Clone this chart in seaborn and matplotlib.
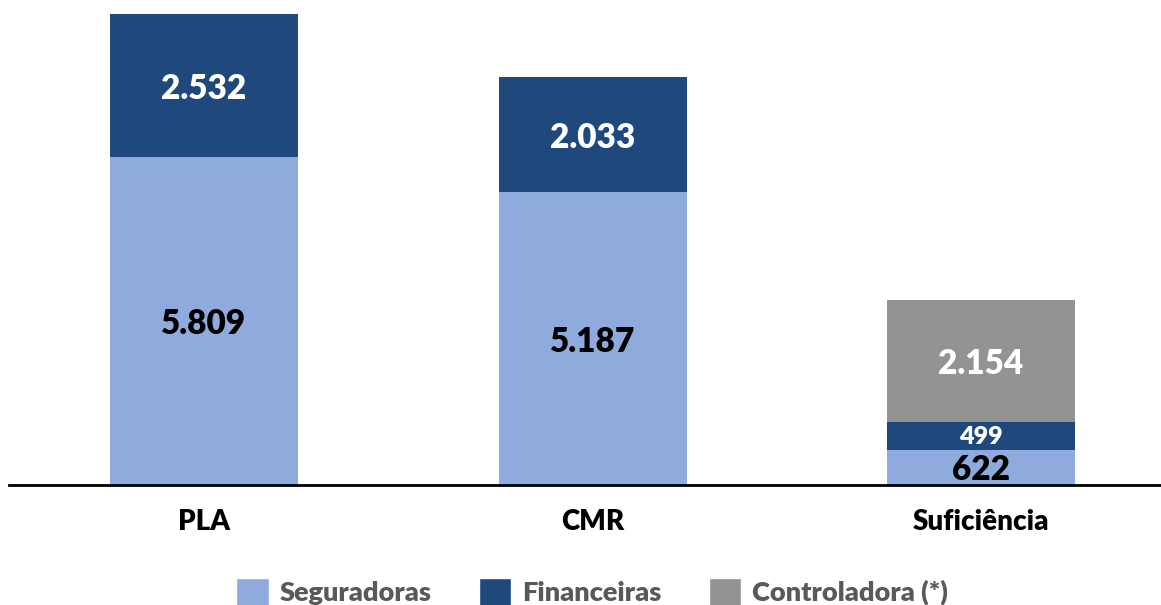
import matplotlib
matplotlib.use("Agg")
import matplotlib.pyplot as plt
import seaborn as sns
import pandas as pd
from matplotlib.patches import Patch

categories = ["PLA", "CMR", "Suficiência"]
seguradoras = [5809, 5187, 622]
financeiras = [2532, 2033, 499]
controladora = [0, 0, 2154]
series_names = ["Seguradoras", "Financeiras", "Controladora (*)"]

c_seg = "#8FAADC"
c_fin = "#1F497D"
c_ctl = "#939393"

sns.set_theme(style="white")
plt.rcParams["font.family"] = ["Lato", "DejaVu Sans"]

fig = plt.figure(figsize=(11.61, 6.05), dpi=100)
ax = fig.add_axes([9 / 1161, 120 / 605, 1 - 9 / 1161, 485 / 605])

df = pd.DataFrame({
    "cat": categories,
    "seg": seguradoras,
    "fin": financeiras,
    "ctl": controladora,
})
df["l2"] = df["seg"] + df["fin"]
df["l3"] = df["l2"] + df["ctl"]

W = 0.484
sns.barplot(data=df, x="cat", y="l3", order=categories, color=c_ctl, saturation=1,
            width=W, ax=ax, linewidth=0)
sns.barplot(data=df, x="cat", y="l2", order=categories, color=c_fin, saturation=1,
            width=W, ax=ax, linewidth=0)
sns.barplot(data=df, x="cat", y="seg", order=categories, color=c_seg, saturation=1,
            width=W, ax=ax, linewidth=0)

def fmt(v):
    return f"{v:,}".replace(",", ".")

WT = "heavy"
def label(x, y, txt, color, size, dy=-2.5):
    ax.annotate(txt, (x, y), xytext=(0, dy), textcoords="offset points",
                ha="center", va="center", color=color, fontsize=size, fontweight=WT)

for i in range(len(categories)):
    s, f, c = seguradoras[i], financeiras[i], controladora[i]
    small = (i == 2)
    label(i, s / 2, fmt(s), "black", 24, dy=-1.5 if small else -2.5)
    label(i, s + f / 2, fmt(f), "white", 18 if small else 24, dy=-1.0 if small else -2.5)
    if c > 0:
        label(i, s + f + c / 2, fmt(c), "white", 24)

ax.set_xlim(-0.502, 2.463)
ax.set_ylim(0, 8589)
ax.set_xlabel("")
ax.set_ylabel("")
ax.set_yticks([])
ax.set_xticks(range(len(categories)))
ax.set_xticklabels(categories, fontsize=20, fontweight=WT, color="black")
ax.tick_params(axis="x", length=0, pad=17)
for sp in ["top", "right", "left"]:
    ax.spines[sp].set_visible(False)
ax.spines["bottom"].set_color("black")
ax.spines["bottom"].set_linewidth(2)

handles = [Patch(facecolor=c_seg), Patch(facecolor=c_fin), Patch(facecolor=c_ctl)]
leg = fig.legend(handles, series_names, loc="center", bbox_to_anchor=(0.51, 0.022),
                 ncol=3, frameon=False, handlelength=1.2, handleheight=1.2,
                 columnspacing=1.75, handletextpad=0.4,
                 prop={"size": 19.5, "weight": WT, "family": ["Lato", "DejaVu Sans"]})
for t in leg.get_texts():
    t.set_color("#595959")

fig.savefig("out.png", dpi=100)
